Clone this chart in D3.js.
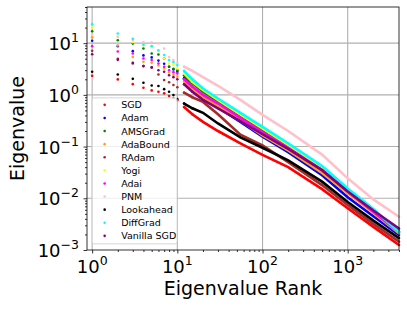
<!DOCTYPE html>
<html>
<head>
<meta charset="utf-8">
<script src="https://cdn.jsdelivr.net/npm/d3@7"></script>
<style>
	body { margin: 0; background: #fff; }
	text { font-family: "DejaVu Sans", sans-serif; fill: #000; }
</style>
</head>
<body>
<div id="chart"></div>
<script>
// Data (eigenvalue read at each rank)
const ranks = [1, 2, 3, 4, 5, 6, 7, 8, 9, 10, 12, 15, 20, 30, 55, 100, 200, 500, 1000, 2000, 4000];

const sgd        = [2.33, 1.99, 1.61, 1.37, 1.22, 1.15, 1.07, 0.95, 0.86, 0.79, 0.58, 0.42, 0.30, 0.20, 0.115, 0.069, 0.040, 0.0150, 0.0064, 0.0028, 0.00125];
const adam       = [11.1, 8.75, 7.0, 5.8, 5.3, 4.6, 4.0, 3.5, 3.1, 2.8, 2.1, 1.4, 0.85, 0.57, 0.30, 0.155, 0.078, 0.028, 0.0105, 0.0045, 0.00195];
const amsgrad    = [17.0, 11.4, 9.8, 7.9, 6.3, 6.05, 5.05, 3.5, 3.2, 3.0, 2.4, 1.7, 1.15, 0.75, 0.40, 0.21, 0.100, 0.037, 0.0145, 0.0060, 0.0023];
const adabound   = [13.0, 9.0, 5.4, 4.35, 4.16, 3.7, 3.25, 2.7, 2.45, 2.25, 1.8, 1.3, 0.90, 0.60, 0.32, 0.165, 0.084, 0.031, 0.0125, 0.0052, 0.0021];
const radam      = [7.1, 5.0, 4.05, 3.6, 3.4, 2.48, 1.93, 1.75, 1.55, 1.4, 1.1, 0.9, 0.73, 0.42, 0.17, 0.105, 0.050, 0.018, 0.0074, 0.0032, 0.00145];
const yogi       = [20.1, 13.5, 10.4, 9.0, 8.75, 7.0, 5.05, 4.05, 3.8, 3.25, 2.6, 1.8, 1.25, 0.80, 0.42, 0.225, 0.108, 0.039, 0.0150, 0.0060, 0.0022];
const adai       = [8.75, 6.9, 6.3, 5.05, 4.7, 4.05, 3.5, 3.0, 2.75, 2.6, 2.0, 1.45, 1.0, 0.68, 0.36, 0.19, 0.095, 0.035, 0.0135, 0.0055, 0.0022];
const pnm        = [14.5, 13.2, 11.5, 10.5, 10.4, 9.9, 7.9, 5.4, 4.7, 4.16, 3.5, 2.9, 2.2, 1.5, 0.80, 0.41, 0.20, 0.070, 0.0243, 0.0095, 0.0044];
const lookahead  = [2.79, 2.48, 2.04, 1.71, 1.52, 1.48, 1.29, 1.15, 0.99, 0.83, 0.68, 0.55, 0.45, 0.28, 0.15, 0.095, 0.054, 0.021, 0.0085, 0.0037, 0.0017];
const diffgrad   = [23.3, 15.4, 12.1, 9.3, 8.75, 7.3, 5.9, 4.7, 4.3, 3.76, 2.9, 2.0, 1.33, 0.85, 0.45, 0.24, 0.115, 0.042, 0.0155, 0.0062, 0.0022];
const vanillaSgd = [6.1, 4.75, 4.16, 3.6, 3.4, 3.0, 2.8, 2.4, 2.2, 2.0, 1.6, 1.15, 0.80, 0.55, 0.31, 0.175, 0.090, 0.035, 0.0135, 0.0058, 0.0026];

const names = ["SGD", "Adam", "AMSGrad", "AdaBound", "RAdam", "Yogi", "Adai", "PNM", "Lookahead", "DiffGrad", "Vanilla SGD"];
const seriesValues = [sgd, adam, amsgrad, adabound, radam, yogi, adai, pnm, lookahead, diffgrad, vanillaSgd];
const colors = ["#ff0000", "#0000ff", "#008000", "#ffa500", "#a52a2a", "#ffff00", "#ff00ff", "#ffc0cb", "#000000", "#00ffff", "#800080"];

const xTicks = [1, 10, 100, 1000];
const yTicks = [1e-3, 1e-2, 1e-1, 1, 10];
const xTickExp = ["0", "1", "2", "3"];
const yTickExp = ["\u22123", "\u22122", "\u22121", "0", "1"];

// Dimensions
const width = 407, height = 310;
const margin = {top: 7, right: 8, bottom: 60, left: 87};
const plotW = width - margin.left - margin.right;
const plotH = height - margin.top - margin.bottom;

// Scales
const x = d3.scaleLog().domain([0.87, 4000]).range([0, plotW]);
const y = d3.scaleLog().domain([1e-3, 50]).range([plotH, 0]);

const svg = d3.select("#chart").append("svg")
	.attr("width", width)
	.attr("height", height)
	.style("display", "block");

const g = svg.append("g")
	.attr("transform", "translate(" + margin.left + "," + margin.top + ")");

// Grid
g.selectAll(".xgrid").data(xTicks).enter().append("line")
	.attr("x1", d => x(d)).attr("x2", d => x(d))
	.attr("y1", 0).attr("y2", plotH)
	.attr("stroke", "#b0b0b0").attr("stroke-width", 1.1);
g.selectAll(".ygrid").data(yTicks.filter(d => d > 1e-3)).enter().append("line")
	.attr("x1", 0).attr("x2", plotW)
	.attr("y1", d => y(d)).attr("y2", d => y(d))
	.attr("stroke", "#b0b0b0").attr("stroke-width", 1.1);

// Series: dense tail drawn as line, leading ranks as dots
const line = d3.line()
	.x(d => x(d[0]))
	.y(d => y(d[1]));

seriesValues.forEach((vals, i) => {
	let pts = ranks.map((r, j) => [r, vals[j]]);
	g.append("path")
		.datum(pts.filter(d => d[0] >= 12))
		.attr("fill", "none")
		.attr("stroke", colors[i])
		.attr("stroke-width", 2.6)
		.attr("stroke-linecap", "round")
		.attr("d", line);
	g.selectAll(null).data(pts.filter(d => d[0] <= 15)).enter().append("circle")
		.attr("cx", d => x(d[0]))
		.attr("cy", d => y(d[1]))
		.attr("r", 1.3)
		.attr("fill", colors[i]);
});

// Axes
const minorX = [];
[1, 10, 100, 1000].forEach(b => { for (let k = 2; k <= 9; k++) if (b * k <= 4000) minorX.push(b * k); });
const minorY = [];
[1e-3, 1e-2, 1e-1, 1, 10].forEach(b => { for (let k = 2; k <= 9; k++) if (b * k <= 50) minorY.push(b * k); });

const xAxis = g.append("g")
	.attr("transform", "translate(0," + plotH + ")");
xAxis.call(d3.axisBottom(x).tickValues(xTicks).tickSize(3.5).tickFormat(""));
xAxis.append("g").call(d3.axisBottom(x).tickValues(minorX).tickSize(2).tickFormat(""));

const yAxis = g.append("g");
yAxis.call(d3.axisLeft(y).tickValues(yTicks).tickSize(3.5).tickFormat(""));
yAxis.append("g").call(d3.axisLeft(y).tickValues(minorY).tickSize(2).tickFormat(""));

svg.selectAll(".domain").remove();
svg.selectAll(".tick line").attr("stroke", "#000").attr("stroke-width", 0.8);

// Frame
g.append("rect")
	.attr("width", plotW).attr("height", plotH)
	.attr("fill", "none")
	.attr("stroke", "#000")
	.attr("stroke-width", 0.8);

// Tick labels (10^n)
xTicks.forEach((t, i) => {
	let tx = g.append("text")
		.attr("x", x(t))
		.attr("y", plotH + 23)
		.style("text-anchor", "middle")
		.style("font-size", "18px")
		.text("10");
	tx.append("tspan").attr("dy", -8).style("font-size", "12.5px").text(xTickExp[i]);
});
yTicks.forEach((t, i) => {
	let ty = g.append("text")
		.attr("x", -8)
		.attr("y", y(t) + 7)
		.style("text-anchor", "end")
		.style("font-size", "18px")
		.text("10");
	ty.append("tspan").attr("dy", -8).style("font-size", "12.5px").text(yTickExp[i]);
});

// Axis labels
g.append("text")
	.attr("x", plotW / 2)
	.attr("y", plotH + 45)
	.style("text-anchor", "middle")
	.style("font-size", "19px")
	.text("Eigenvalue Rank");
g.append("text")
	.attr("transform", "rotate(-90)")
	.attr("x", -plotH / 2)
	.attr("y", -63)
	.style("text-anchor", "middle")
	.style("font-size", "19px")
	.text("Eigenvalue");

// Legend
const lg = g.append("g")
	.attr("transform", "translate(" + x(1) + "," + (y(1) + 3) + ")");
lg.append("rect")
	.attr("x", 0).attr("y", 0)
	.attr("width", 85).attr("height", 146)
	.attr("rx", 2)
	.attr("fill", "#fff").attr("fill-opacity", 0.8)
	.attr("stroke", "#cccccc").attr("stroke-width", 0.8);
names.forEach((n, i) => {
	lg.append("circle")
		.attr("cx", 12.5)
		.attr("cy", 7 + i * 13.1)
		.attr("r", 1.3)
		.attr("fill", colors[i]);
	lg.append("text")
		.attr("x", 29)
		.attr("y", 7 + i * 13.1 + 3.5)
		.style("font-size", "9.5px")
		.text(n);
});
</script>
</body>
</html>
